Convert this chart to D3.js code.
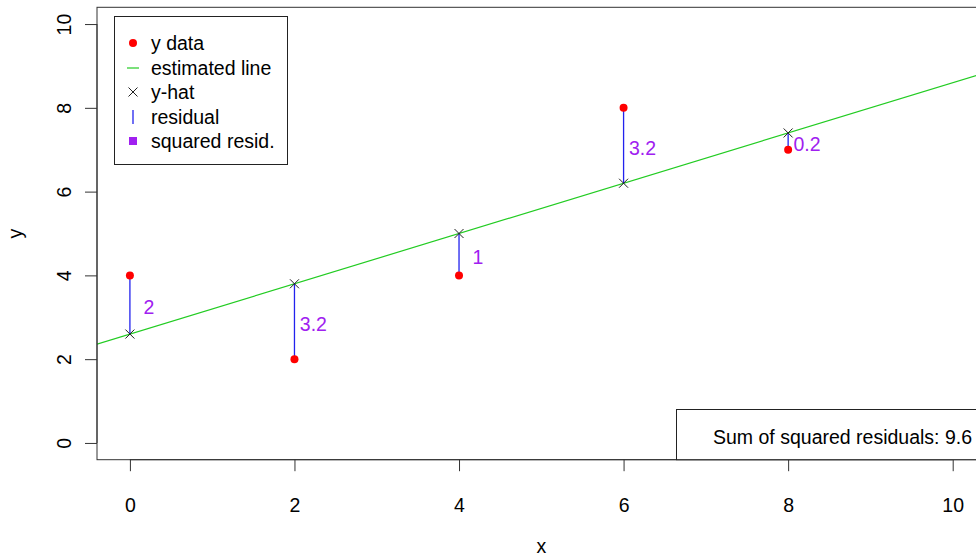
<!DOCTYPE html>
<html>
<head>
<meta charset="utf-8">
<script src="https://cdn.jsdelivr.net/npm/d3@7"></script>
<style>
  body { margin: 0; background: #fff; }
  svg { display: block; font-family: "Liberation Sans", Arial, sans-serif; }
</style>
</head>
<body>
<div id="chart"></div>
<script>
// data
const xData = [0, 2, 4, 6, 8];
const yData = [4, 2, 4, 8, 7];
const intercept = 2.6;
const slope = 0.6;
const sqLabels = ["2", "3.2", "1", "3.2", "0.2"];
const xTicks = [0, 2, 4, 6, 8, 10];
const yTicks = [0, 2, 4, 6, 8, 10];
const legendLabels = ["y data", "estimated line", "y-hat", "residual", "squared resid."];
const sumLabel = "Sum of squared residuals: 9.6";

const width = 976, height = 558;
const plot = { left: 97, right: 985.6, top: 7.3, bottom: 459.7 };
const fontSize = 19.5;

const svg = d3.select("#chart").append("svg")
    .attr("width", width)
    .attr("height", height);

const x = d3.scaleLinear().domain([-0.4, 10.4]).range([plot.left, plot.right]);
const y = d3.scaleLinear().domain([-0.4, 10.4]).range([plot.bottom, plot.top]);

const yHat = xData.map(d => intercept + slope * d);

svg.append("clipPath").attr("id", "clip")
    .append("rect")
    .attr("x", plot.left).attr("y", plot.top)
    .attr("width", plot.right - plot.left).attr("height", plot.bottom - plot.top);

const g = svg.append("g").attr("clip-path", "url(#clip)");

// estimated line (abline)
const lineX = x.domain();
g.append("line")
    .attr("x1", x(lineX[0])).attr("y1", y(intercept + slope * lineX[0]))
    .attr("x2", x(lineX[1])).attr("y2", y(intercept + slope * lineX[1]))
    .attr("stroke", "#22cc22")
    .attr("stroke-width", 1.2);

// residuals
g.selectAll(".resid").data(xData).join("line")
    .attr("x1", d => x(d)).attr("x2", d => x(d))
    .attr("y1", (d, i) => y(yData[i]))
    .attr("y2", (d, i) => y(yHat[i]))
    .attr("stroke", "#2222ee")
    .attr("stroke-width", 1.3);

// y data points
g.selectAll(".pt").data(xData).join("circle")
    .attr("cx", d => x(d))
    .attr("cy", (d, i) => y(yData[i]))
    .attr("r", 4)
    .attr("fill", "#ff0000");

// y-hat crosses
const cross = (sx, sy, s) => `M${sx - s},${sy - s}L${sx + s},${sy + s}M${sx - s},${sy + s}L${sx + s},${sy - s}`;
g.selectAll(".hat").data(xData).join("path")
    .attr("d", (d, i) => cross(x(d), y(yHat[i]), 4.5))
    .attr("stroke", "#222")
    .attr("stroke-width", 1)
    .attr("fill", "none");

// squared residual labels, centred a bit right of each residual
g.selectAll(".sq").data(xData).join("text")
    .attr("x", d => x(d + 0.23))
    .attr("y", (d, i) => y((yData[i] + yHat[i]) / 2))
    .attr("dy", "0.48em")
    .attr("text-anchor", "middle")
    .attr("font-size", fontSize)
    .attr("fill", "#a020f0")
    .text((d, i) => sqLabels[i]);

// plot frame
svg.append("rect")
    .attr("x", plot.left).attr("y", plot.top)
    .attr("width", plot.right - plot.left).attr("height", plot.bottom - plot.top)
    .attr("fill", "none")
    .attr("stroke", "#333")
    .attr("stroke-width", 1);

// axes
const xAxis = svg.append("g")
    .attr("transform", `translate(0,${plot.bottom})`)
    .call(d3.axisBottom(x).tickValues(xTicks).tickSize(11.5));
xAxis.select(".domain").attr("d", `M${x(0)},0H${x(10)}`);

const yAxis = svg.append("g")
    .attr("transform", `translate(${plot.left},0)`)
    .call(d3.axisLeft(y).tickValues(yTicks).tickSize(12).tickPadding(0));
yAxis.select(".domain").attr("d", `M0,${y(0)}V${y(10)}`);
yAxis.selectAll(".tick text")
    .attr("x", 0).attr("dy", 0)
    .attr("transform", "translate(-26,0) rotate(-90)")
    .attr("text-anchor", "middle");

svg.selectAll(".tick line, .domain").attr("stroke", "#333");
svg.selectAll(".tick text")
    .attr("font-size", fontSize)
    .attr("font-family", "Liberation Sans, Arial, sans-serif")
    .attr("fill", "#000");
xAxis.selectAll(".tick text").attr("dy", "0.71em").attr("y", 38);

// axis titles
svg.append("text")
    .attr("x", (plot.left + plot.right) / 2)
    .attr("y", 553)
    .attr("text-anchor", "middle")
    .attr("font-size", fontSize)
    .text("x");

svg.append("text")
    .attr("transform", `translate(22,${(plot.top + plot.bottom) / 2}) rotate(-90)`)
    .attr("text-anchor", "middle")
    .attr("font-size", fontSize)
    .text("y");

// legend
const legend = svg.append("g");
legend.append("rect")
    .attr("x", 114.5).attr("y", 16.5)
    .attr("width", 173).attr("height", 148)
    .attr("fill", "#fff")
    .attr("stroke", "#222")
    .attr("stroke-width", 1);

const legY = [43, 68, 92, 117, 141];
const symX = 133;
legend.append("circle").attr("cx", symX).attr("cy", legY[0]).attr("r", 4).attr("fill", "#ff0000");
legend.append("line").attr("x1", symX - 6).attr("x2", symX + 6)
    .attr("y1", legY[1]).attr("y2", legY[1])
    .attr("stroke", "#22cc22").attr("stroke-width", 1.2);
legend.append("path").attr("d", cross(symX, legY[2], 4.5))
    .attr("stroke", "#222").attr("stroke-width", 1).attr("fill", "none");
legend.append("line").attr("x1", symX).attr("x2", symX)
    .attr("y1", legY[3] - 7).attr("y2", legY[3] + 7)
    .attr("stroke", "#2222ee").attr("stroke-width", 1.3);
legend.append("rect").attr("x", symX - 4).attr("y", legY[4] - 4)
    .attr("width", 8).attr("height", 8).attr("fill", "#a020f0");

legend.selectAll(".lab").data(legendLabels).join("text")
    .attr("x", 151)
    .attr("y", (d, i) => legY[i])
    .attr("dy", "0.35em")
    .attr("font-size", fontSize)
    .text(d => d);

// sum box
svg.append("rect")
    .attr("x", 676.5).attr("y", 409.5)
    .attr("width", 320).attr("height", plot.bottom - 409.5)
    .attr("fill", "#fff")
    .attr("stroke", "#222")
    .attr("stroke-width", 1);
svg.append("text")
    .attr("x", 713)
    .attr("y", 437)
    .attr("dy", "0.35em")
    .attr("font-size", fontSize)
    .text(sumLabel);
</script>
</body>
</html>
